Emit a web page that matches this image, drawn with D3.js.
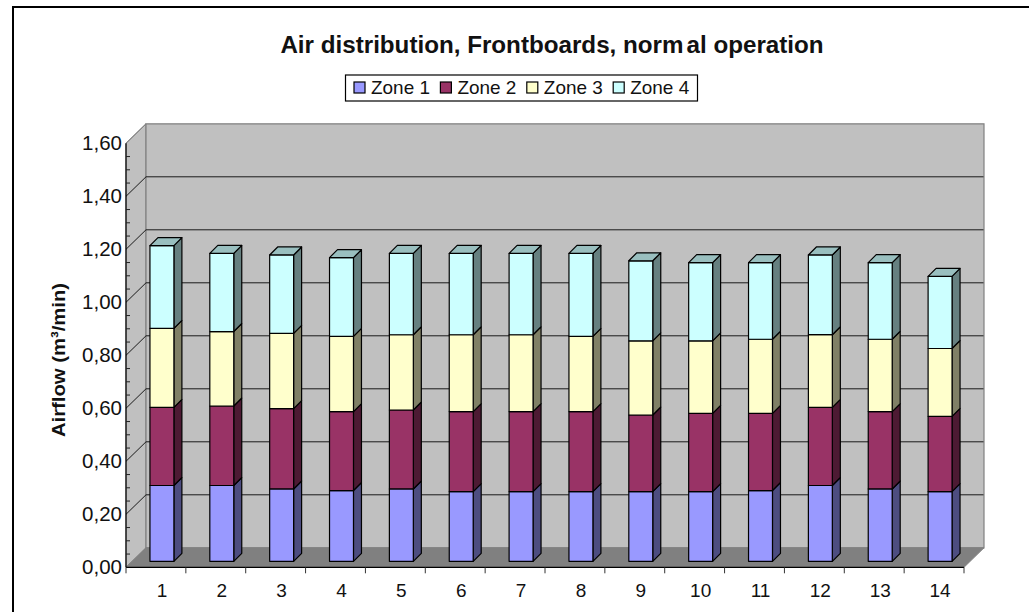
<!DOCTYPE html>
<html>
<head>
<meta charset="utf-8">
<script src="https://cdn.jsdelivr.net/npm/d3@7"></script>
<style>
  html, body { margin: 0; padding: 0; background: #fff; overflow: hidden; }
  svg { display: block; }
  text { font-family: "Liberation Sans", Arial, sans-serif; fill: #111; }
</style>
</head>
<body>
<div id="chart"></div>
<script>
const categories = ["1","2","3","4","5","6","7","8","9","10","11","12","13","14"];
const zones = ["Zone 1","Zone 2","Zone 3","Zone 4"];
const zone1 = [0.286,0.286,0.273,0.267,0.273,0.263,0.263,0.263,0.263,0.263,0.267,0.286,0.273,0.263];
const zone2 = [0.295,0.300,0.303,0.298,0.298,0.302,0.302,0.302,0.289,0.295,0.291,0.295,0.292,0.284];
const zone3 = [0.298,0.281,0.284,0.284,0.284,0.290,0.290,0.284,0.280,0.274,0.280,0.274,0.273,0.256];
const zone4 = [0.312,0.295,0.296,0.297,0.307,0.307,0.307,0.313,0.302,0.295,0.289,0.301,0.289,0.272];
const yLabelTicks = [0,0.2,0.4,0.6,0.8,1.0,1.2,1.4,1.6];
const yMinorTicks = [0.05,0.1,0.15,0.25,0.3,0.35,0.45,0.5,0.55,0.65,0.7,0.75,0.85,0.9,0.95,1.05,1.1,1.15,1.25,1.3,1.35,1.45,1.5,1.55];

const frontColors = ["#9999ff","#993366","#ffffcc","#ccffff"];
const sideColors = ["#4d4d80","#4d1a33","#808066","#668080"];
const topColor = "#99bfbf";

const width = 1029, height = 612;
const plotLeft = 126, plotRight = 964, plotTop = 143.3, plotBottom = 567.3;
const wallDx = 20, wallDy = 19.5;   // depth of the 3d box
const barShift = 6, barDepth = 8;   // bars sit a little inside the floor

const rows = categories.map((c, i) => ({ cat: c, z0: zone1[i], z1: zone2[i], z2: zone3[i], z3: zone4[i] }));
const stack = d3.stack().keys(["z0","z1","z2","z3"])(rows);

const x = d3.scaleBand().domain(categories).range([plotLeft, plotRight]).paddingInner(0.6).paddingOuter(0.3);
const y = d3.scaleLinear().domain([0, 1.6]).range([plotBottom, plotTop]);
const edge = d3.scaleBand().domain(categories).range([plotLeft, plotRight]);

const svg = d3.select("#chart").append("svg").attr("width", width).attr("height", height);

// outer frame, cut off on the right and the bottom
svg.append("path")
  .attr("d", `M13,${height}V7H${width}`)
  .attr("fill", "none").attr("stroke", "#000").attr("stroke-width", 2);

const poly = pts => pts.map(p => p.join(",")).join(" ");

// walls and floor
svg.append("polygon")
  .attr("points", poly([[plotLeft,plotTop],[plotLeft+wallDx,plotTop-wallDy],[plotLeft+wallDx,plotBottom-wallDy],[plotLeft,plotBottom]]))
  .attr("fill", "#c0c0c0").attr("stroke", "#808080");
svg.append("polygon")
  .attr("points", poly([[plotLeft+wallDx,plotTop-wallDy],[plotRight+wallDx,plotTop-wallDy],[plotRight+wallDx,plotBottom-wallDy],[plotLeft+wallDx,plotBottom-wallDy]]))
  .attr("fill", "#c0c0c0").attr("stroke", "#808080").attr("stroke-width", 1.2);
svg.append("polygon")
  .attr("points", poly([[plotLeft,plotBottom],[plotLeft+wallDx,plotBottom-wallDy],[plotRight+wallDx,plotBottom-wallDy],[plotRight,plotBottom]]))
  .attr("fill", "#808080").attr("stroke", "#808080");

// gridlines
const gridVals = yLabelTicks.filter(v => v > 0 && v < 1.6);
svg.append("g").selectAll("path").data(gridVals).enter().append("path")
  .attr("d", d => `M${plotLeft},${y(d)}L${plotLeft+wallDx},${y(d)-wallDy}H${plotRight+wallDx-0.5}`)
  .attr("fill", "none").attr("stroke", "#1a1a1a").attr("stroke-width", 1);
svg.append("path")
  .attr("d", `M${plotLeft},${y(1.6)}L${plotLeft+wallDx},${y(1.6)-wallDy}`)
  .attr("fill", "none").attr("stroke", "#808080");

// bars
const barW = x.bandwidth();
const bars = svg.append("g").selectAll("g").data(stack).enter().append("g")
  .attr("transform", `translate(${barShift},${-barShift})`)
  .attr("stroke", "#000").attr("stroke-width", 1.2).attr("stroke-linejoin", "round");

bars.each(function(series, s) {
  const g = d3.select(this);
  g.selectAll("polygon.side").data(series).enter().append("polygon")
    .attr("class", "side")
    .attr("fill", sideColors[s])
    .attr("points", d => {
      const xr = x(d.data.cat) + barW;
      return poly([[xr,y(d[0])],[xr+barDepth,y(d[0])-barDepth],[xr+barDepth,y(d[1])-barDepth],[xr,y(d[1])]]);
    });
  g.selectAll("rect").data(series).enter().append("rect")
    .attr("x", d => x(d.data.cat))
    .attr("y", d => y(d[1]))
    .attr("width", barW)
    .attr("height", d => y(d[0]) - y(d[1]))
    .attr("fill", frontColors[s]);
  if (s === stack.length - 1) {
    g.selectAll("polygon.top").data(series).enter().append("polygon")
      .attr("class", "top")
      .attr("fill", topColor)
      .attr("points", d => {
        const xl = x(d.data.cat), yt = y(d[1]);
        return poly([[xl,yt],[xl+barDepth,yt-barDepth],[xl+barW+barDepth,yt-barDepth],[xl+barW,yt]]);
      });
  }
});

// y axis
svg.append("line").attr("x1", plotLeft).attr("x2", plotLeft).attr("y1", plotTop).attr("y2", plotBottom)
  .attr("stroke", "#000").attr("stroke-width", 1.2);
svg.append("g").selectAll("line").data(yMinorTicks).enter().append("line")
  .attr("x1", plotLeft).attr("x2", plotLeft + 4)
  .attr("y1", d => y(d)).attr("y2", d => y(d))
  .attr("stroke", "#222");
const fmt = v => d3.format(".2f")(v).replace(".", ",");
const yAxis = svg.append("g").attr("transform", `translate(${plotLeft},0)`)
  .call(d3.axisLeft(y).tickValues(yLabelTicks).tickFormat(fmt).tickSize(0).tickPadding(4));
yAxis.select(".domain").remove();
yAxis.selectAll("text").attr("font-size", 20.5).attr("font-family", null).attr("fill", "#111");

// x axis
svg.append("line").attr("x1", plotLeft).attr("x2", plotRight).attr("y1", plotBottom).attr("y2", plotBottom)
  .attr("stroke", "#000").attr("stroke-width", 1.2);
svg.append("g").selectAll("line").data(categories.concat(["end"])).enter().append("line")
  .attr("x1", d => d === "end" ? plotRight : edge(d))
  .attr("x2", d => d === "end" ? plotRight : edge(d))
  .attr("y1", plotBottom).attr("y2", plotBottom + 6)
  .attr("stroke", "#333");
const xAxis = svg.append("g").attr("transform", `translate(${barShift},${plotBottom})`)
  .call(d3.axisBottom(x).tickSize(0).tickPadding(16));
xAxis.select(".domain").remove();
xAxis.selectAll("text").attr("font-size", 19).attr("font-family", null).attr("fill", "#111");

// title
const title = svg.append("text").attr("x", 552).attr("y", 53)
  .attr("text-anchor", "middle").attr("font-size", 24.2).attr("font-weight", "bold");
title.append("tspan").text("Air distribution, Frontboards, norm");
title.append("tspan").attr("dx", 3).text("al operation");

// y axis title
svg.append("text")
  .attr("transform", "translate(65,360) rotate(-90)")
  .attr("text-anchor", "middle").attr("font-size", 18.5).attr("font-weight", "bold")
  .attr("textLength", 154).attr("lengthAdjust", "spacingAndGlyphs")
  .text("Airflow (m³/min)");

// legend
svg.append("rect").attr("x", 345.5).attr("y", 75).attr("width", 352).attr("height", 26)
  .attr("fill", "#fff").attr("stroke", "#000").attr("stroke-width", 1.2);
const legend = svg.append("g").selectAll("g").data(zones).enter().append("g")
  .attr("transform", (d, i) => `translate(${354 + i * 86.4},0)`);
legend.append("rect").attr("x", 0).attr("y", 82).attr("width", 11).attr("height", 11)
  .attr("fill", (d, i) => frontColors[i]).attr("stroke", "#000").attr("stroke-width", 1.2);
legend.append("text").attr("x", 17).attr("y", 94).attr("font-size", 19)
  .attr("textLength", 59).attr("lengthAdjust", "spacingAndGlyphs").text(d => d);
</script>
</body>
</html>
